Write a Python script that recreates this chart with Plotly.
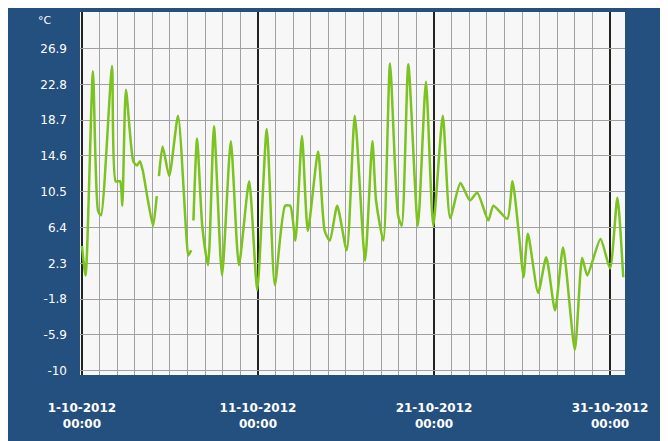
import plotly.graph_objects as go

# hours since 1-10-2012 00:00, None marks a gap in the record
hours = [0, 5, 15, 22, 26, 41, 46, 52, 55, 60, 70, 75, 79, 83, 90, 97, 102, 104,
         105, 110, 119, 131, 142, 145, 149, 150,
         152, 157, 164, 172, 180, 191, 203, 214, 228, 239, 252, 263, 277, 284, 291,
         300, 308, 322, 331, 338, 348, 361, 372, 386, 396, 401, 411, 420, 431, 436,
         445, 458, 469, 479, 492, 502, 516, 529, 539, 554, 561, 580, 587, 597, 602,
         608, 622, 633, 645, 656, 672, 682, 689, 707, 720, 730, 738]
temps = [4.3, 0.9, 24.3, 8.3, 7.8, 24.9, 11.7, 11.7, 8.9, 22.2, 14, 13.5, 14, 12.9, 9.5, 6.6, 10, None,
         12.3, 15.7, 12.3, 19.2, 6, 3.2, 3.8, None,
         7.2, 16.6, 6.6, 2.1, 18, 0.9, 16.3, 2.1, 11.7, -0.8, 17.7, -0.2, 8.9, 8.9, 4.9,
         16.9, 6, 15.1, 6, 4.9, 8.9, 3.8, 19.2, 2.6, 16.3, 9.5, 4.9, 25.2, 7.8, 6.6,
         25.1, 6.6, 23.1, 6.6, 19.2, 7.5, 11.5, 9.5, 10.4, 7.2, 8.9, 7.4, 11.7, 4.6, 0.7,
         5.7, -1.1, 3, -3.1, 4.1, -7.6, 2.9, 0.9, 5.1, 1.7, 9.8, 0.7]

y_ticks = [26.9, 22.8, 18.7, 14.6, 10.5, 6.4, 2.3, -1.8, -5.9, -10]
x_ticks = [0, 10, 20, 30]
x_labels = ["<b>1-10-2012<br>00:00</b>", "<b>11-10-2012<br>00:00</b>",
            "<b>21-10-2012<br>00:00</b>", "<b>31-10-2012<br>00:00</b>"]

days = [h / 24 for h in hours]

fig = go.Figure(go.Scatter(x=days, y=temps, mode="lines", connectgaps=False,
                           line=dict(color="#7cc220", width=2.5, shape="spline", smoothing=0.6)))

fig.update_layout(
    width=668, height=441,
    margin=dict(l=72, r=51, t=4, b=74),
    paper_bgcolor="#24507f", plot_bgcolor="#f7f7f7",
    showlegend=False,
    font=dict(family="DejaVu Sans", color="white", size=12),
    annotations=[dict(text="°C", x=0, y=1, xref="paper", yref="paper",
                      xanchor="right", yanchor="top", xshift=-26, yshift=0,
                      showarrow=False, font=dict(size=11))],
)
fig.update_xaxes(range=[-0.11, 30.85], tickvals=x_ticks, ticktext=x_labels,
                 showgrid=True, gridcolor="#222222", gridwidth=1.5,
                 minor=dict(dtick=1, tick0=0, showgrid=True, gridcolor="#a0a0a0", gridwidth=1),
                 zeroline=False, ticks="", tickfont=dict(size=12), automargin=False,
                 ticklabelstandoff=24)
fig.update_yaxes(range=[-10.5, 31.1], tickvals=y_ticks, ticktext=[str(t) for t in y_ticks],
                 showgrid=True, gridcolor="#a0a0a0", zeroline=False, ticks="",
                 ticklabelstandoff=12, tickfont=dict(size=12), automargin=False)

fig.write_html("out.html")
